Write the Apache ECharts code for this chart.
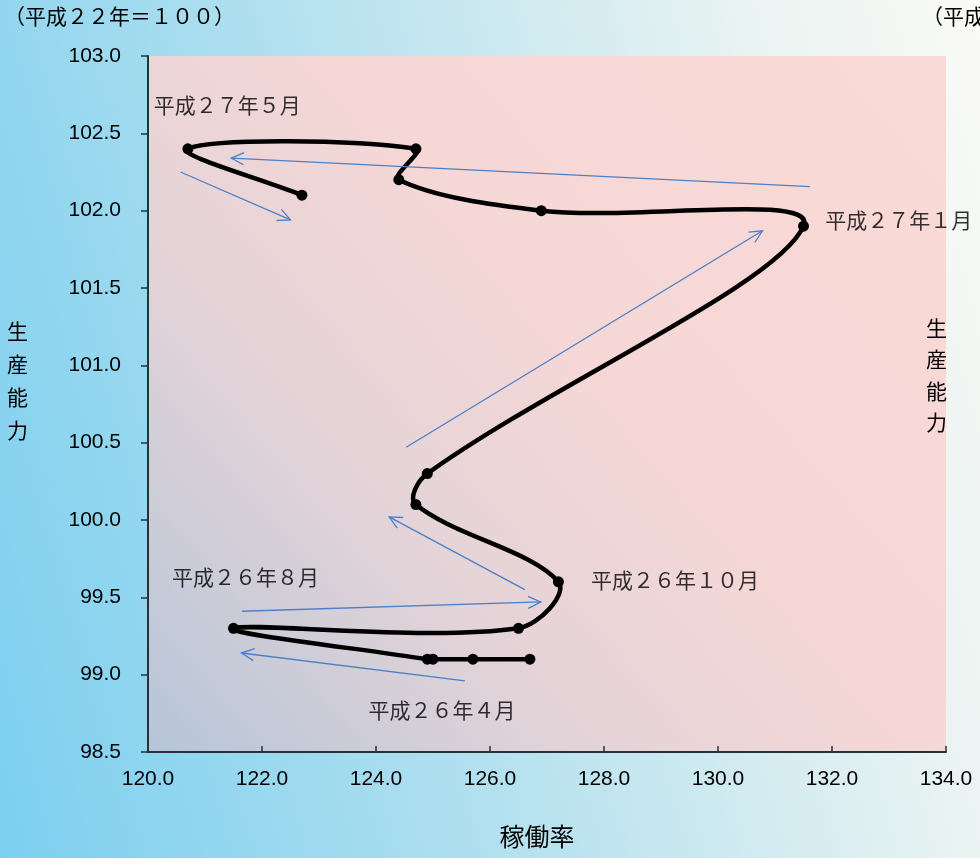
<!DOCTYPE html>
<html>
<head>
<meta charset="utf-8">
<script src="https://cdn.jsdelivr.net/npm/echarts@6/dist/echarts.min.js"></script>
<style>
  html, body { margin: 0; padding: 0; width: 980px; height: 858px; overflow: hidden; }
  body { background: linear-gradient(75deg, #7ccff0 0%, #9fdaef 28%, #c6e7f0 55%, #e9f3f2 80%, #fafaf6 100%); }
  #chart { width: 980px; height: 858px; }
</style>
</head>
<body>
<div id="chart"></div>
<script>
// Monthly path: operating rate (x) against production capacity (y), 平成22年＝100
const months = ['平成26年4月', '平成26年5月', '平成26年6月', '平成26年7月', '平成26年8月',
  '平成26年9月', '平成26年10月', '平成26年11月', '平成26年12月', '平成27年1月',
  '平成27年2月', '平成27年3月', '平成27年4月', '平成27年5月', '平成27年6月'];
const utilization = [126.7, 125.7, 125.0, 124.9, 121.5, 126.5, 127.2, 124.7, 124.9, 131.5, 126.9, 124.4, 124.7, 120.7, 122.7];
const capacity    = [99.1, 99.1, 99.1, 99.1, 99.3, 99.3, 99.6, 100.1, 100.3, 101.9, 102.0, 102.2, 102.4, 102.4, 102.1];

// Month notes placed beside the path (anchor = left edge / vertical middle of the text)
const noteText = ['平成２７年５月', '平成２７年１月', '平成２６年１０月', '平成２６年８月', '平成２６年４月'];
const noteX = [120.10, 131.88, 127.77, 120.42, 123.87];
const noteY = [102.68, 101.94, 99.61, 99.63, 98.77];

// Direction arrows (from -> to, head drawn at "to")
const arrowFromX = [125.56, 121.65, 126.61, 124.53, 131.61, 120.57];
const arrowFromY = [98.96, 99.41, 99.55, 100.47, 102.155, 102.25];
const arrowToX   = [121.64, 126.89, 124.23, 130.78, 121.46, 122.50];
const arrowToY   = [99.14, 99.47, 100.02, 101.87, 102.34, 101.94];

// Axis ranges
const xMin = 120, xMax = 134, xStep = 2;
const yMin = 98.5, yMax = 103, yStep = 0.5;

const jp = '"Noto Sans CJK JP", "Noto Sans", sans-serif';
const num = '"Liberation Sans", Arial, sans-serif';
const axisColor = '#26323a';
const arrowColor = '#4a7fc9';
const smoothness = 0.35;

const points = utilization.map((x, i) => [x, capacity[i]]);

const chart = echarts.init(document.getElementById('chart'), null, { renderer: 'canvas' });

// Smoothed path in screen space: one cubic Bezier per segment. The tangent at
// each point follows its neighbours and is split by the lengths of the two
// adjacent segments; control points are not clamped, so the curve swings a
// little past the turning points.
function controlPoints(api, k) {
  const n = points.length;
  const p = api.coord(points[k]);
  const prev = api.coord(points[Math.max(0, k - 1)]);
  const next = api.coord(points[Math.min(n - 1, k + 1)]);
  const vx = next[0] - prev[0], vy = next[1] - prev[1];
  const lp = Math.hypot(p[0] - prev[0], p[1] - prev[1]);
  const ln = Math.hypot(next[0] - p[0], next[1] - p[1]);
  const sum = lp + ln || 1;
  return {
    p,
    before: [p[0] - vx * smoothness * lp / sum, p[1] - vy * smoothness * lp / sum],
    after: [p[0] + vx * smoothness * ln / sum, p[1] + vy * smoothness * ln / sum]
  };
}

function renderSegment(params, api) {
  const i = params.dataIndex;
  if (i >= points.length - 1) return null;
  const a = controlPoints(api, i);
  const b = controlPoints(api, i + 1);
  return {
    type: 'bezierCurve',
    shape: {
      x1: a.p[0], y1: a.p[1],
      cpx1: a.after[0], cpy1: a.after[1],
      cpx2: b.before[0], cpy2: b.before[1],
      x2: b.p[0], y2: b.p[1]
    },
    style: { stroke: '#000', lineWidth: 4.5, fill: null, lineCap: 'round', lineJoin: 'round' }
  };
}

function renderArrow(params, api) {
  const p0 = api.coord([api.value(0), api.value(1)]);
  const p1 = api.coord([api.value(2), api.value(3)]);
  const ang = Math.atan2(p1[1] - p0[1], p1[0] - p0[0]);
  const len = 14, spread = Math.PI / 7;
  const h1 = [p1[0] - len * Math.cos(ang - spread), p1[1] - len * Math.sin(ang - spread)];
  const h2 = [p1[0] - len * Math.cos(ang + spread), p1[1] - len * Math.sin(ang + spread)];
  const style = { stroke: arrowColor, lineWidth: 1.3, fill: null };
  return {
    type: 'group',
    children: [
      { type: 'line', shape: { x1: p0[0], y1: p0[1], x2: p1[0], y2: p1[1] }, style },
      { type: 'polyline', shape: { points: [h1, p1, h2] }, style }
    ]
  };
}

const option = {
  backgroundColor: 'transparent',
  animation: false,
  grid: {
    left: 148, right: 34, top: 56, bottom: 106,
    show: true, borderWidth: 0,
    backgroundColor: new echarts.graphic.LinearGradient(0, 1, 1, 0, [
      { offset: 0, color: '#b5c5d8' },
      { offset: 0.3, color: '#e2d3d8' },
      { offset: 0.55, color: '#f5d7d6' },
      { offset: 1, color: '#fadad6' }
    ])
  },
  graphic: [
    { type: 'text', left: 4, top: 6, style: { text: '（平成２２年＝１００）', font: '21px ' + jp, fill: '#000' } },
    { type: 'text', left: 922, top: 6, style: { text: '（平成２２年＝１００）', font: '21px ' + jp, fill: '#000' } },
    // vertical axis title, left of the value axis and again at the right edge
    { type: 'text', left: 7, top: 315, style: { text: '生\n産\n能\n力', font: '21px ' + jp, fill: '#000', lineHeight: 33 } },
    { type: 'text', left: 926, top: 312, style: { text: '生\n産\n能\n力', font: '21px ' + jp, fill: '#000', lineHeight: 31.5 } }
  ],
  xAxis: {
    type: 'value', min: xMin, max: xMax, interval: xStep,
    name: '稼働率', nameLocation: 'middle', nameGap: 72,
    nameTextStyle: { fontFamily: jp, fontSize: 25, color: '#000', padding: [0, 20, 0, 0] },
    axisLine: { show: true, lineStyle: { color: axisColor, width: 2 } },
    axisTick: { show: true, inside: true, length: 6, lineStyle: { color: axisColor, width: 1.5 } },
    splitLine: { show: false },
    axisLabel: { margin: 17, fontFamily: num, fontSize: 21, color: '#000', formatter: v => v.toFixed(1) }
  },
  yAxis: {
    type: 'value', min: yMin, max: yMax, interval: yStep,
    axisLine: { show: true, lineStyle: { color: axisColor, width: 2 } },
    axisTick: { show: true, inside: false, length: 7, lineStyle: { color: axisColor, width: 1.5 } },
    splitLine: { show: false },
    axisLabel: { margin: 27, fontFamily: num, fontSize: 21, color: '#000', formatter: v => v.toFixed(1) }
  },
  series: [
    {
      name: '生産能力・稼働率',
      type: 'custom',
      z: 3,
      data: points,
      encode: { x: 0, y: 1 },
      renderItem: renderSegment,
      silent: true
    },
    {
      name: '生産能力・稼働率（月）',
      type: 'scatter',
      z: 3,
      data: points.map((p, i) => ({ name: months[i], value: p })),
      symbol: 'circle',
      symbolSize: 11,
      itemStyle: { color: '#000', opacity: 1 }
    },
    {
      name: '推移方向',
      type: 'custom',
      z: 4,
      data: arrowFromX.map((x, i) => [x, arrowFromY[i], arrowToX[i], arrowToY[i]]),
      encode: { x: [0, 2], y: [1, 3] },
      renderItem: renderArrow,
      silent: true
    },
    {
      name: '月',
      type: 'scatter',
      symbolSize: 0,
      z: 5,
      data: noteX.map((x, i) => ({ value: [x, noteY[i]], label: { formatter: noteText[i] } })),
      label: {
        show: true, position: 'right', distance: 0,
        fontFamily: jp, fontSize: 21, color: '#000'
      },
      silent: true
    }
  ]
};

chart.setOption(option);
</script>
</body>
</html>
